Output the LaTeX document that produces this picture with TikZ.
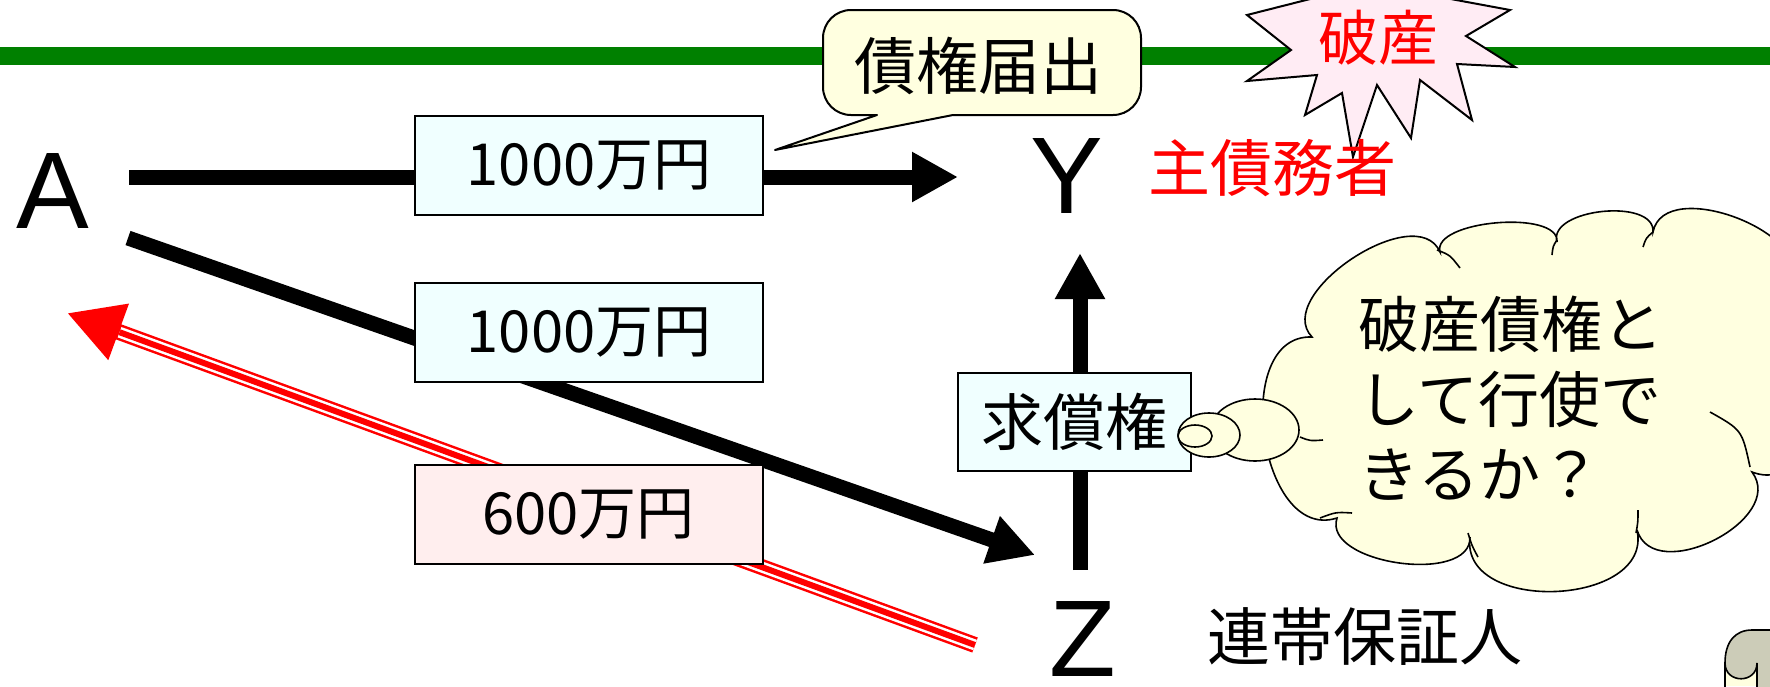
\documentclass[tikz,border=0pt]{standalone}
\usepackage{fontspec}
\setmainfont{Noto Sans CJK JP}
\newfontfamily\latfont{Liberation Sans}
\usetikzlibrary{arrows.meta,calc}
\definecolor{grn}{RGB}{0,128,0}
\definecolor{azurebox}{RGB}{240,255,255}
\definecolor{pinkbox}{RGB}{255,238,238}
\definecolor{lyellow}{RGB}{255,255,224}
\definecolor{starpink}{RGB}{255,236,244}
\definecolor{scrollgray}{RGB}{204,204,184}
\definecolor{pured}{RGB}{255,0,0}
\tikzset{
  amountbox/.style={draw=black, line width=2pt, fill=azurebox, minimum width=348pt,
    minimum height=99pt, inner sep=0pt, font=\fontsize{58}{66}\selectfont},
  bigletter/.style={inner sep=0pt, font=\latfont\fontsize{109}{120}\selectfont},
  jlabel/.style={inner sep=0pt, font=\fontsize{62}{75}\selectfont},
  flow/.style={line width=15pt, -{Triangle[length=46pt,width=47pt]}},
  cloudline/.style={draw=black, line width=1.6pt},
}
\begin{document}
\begin{tikzpicture}[x=1pt, y=-1pt, line join=miter]
\path[use as bounding box] (0,0) rectangle (1770,686);
\fill[white] (0,0) rectangle (1770,686);
\clip (0,0) rectangle (1770,686);

% green line
\coordinate (gl) at (0,56);
\coordinate (gr) at (1770,56);
\draw[grn, line width=18pt] (gl) -- (gr);

% callout
\draw[fill=lyellow, line width=2pt, line join=round]
  (877,115) -- (775,150) -- (953,115) -- (1113,115)
  .. controls (1128.5,115) and (1141,102.5) .. (1141,87) -- (1141,38)
  .. controls (1141,22.5) and (1128.5,10) .. (1113,10) -- (851,10)
  .. controls (835.5,10) and (823,22.5) .. (823,38) -- (823,87)
  .. controls (823,102.5) and (835.5,115) .. (851,115) -- cycle;
\node[jlabel] (todoke) at (978,66) {債権届出};

% starburst
\draw[fill=starpink, line width=2pt]
  (1247,15) -- (1291,50) -- (1247,81) -- (1317,75) -- (1305,115) -- (1342,93)
  -- (1353,157) -- (1377,85) -- (1411,138) -- (1420,80) -- (1472,120)
  -- (1457,64) -- (1515,67) -- (1466,36) -- (1510,10) -- (1440,-3)
  -- (1410,-40) -- (1380,-12) -- (1350,-40) -- (1318,-3) -- cycle;
\node[jlabel, text=pured, font=\fontsize{60}{70}\selectfont] (hasan) at (1378,38) {破産};

% letters and labels
\node[bigletter] (A) at (53,191) {A};
\node[bigletter] (Y) at (1067,176) {Y};
\node[bigletter] (Z) at (1083,639) {Z};
\node[jlabel, text=pured] (shu) at (1272,168) {主債務者};
\node[jlabel, font=\fontsize{63}{75}\selectfont] (hosho) at (1365,637) {連帯保証人};

% connectors
\coordinate (ha) at (129,177);
\coordinate (hy) at (958,177);
\coordinate (da) at (128,238);
\coordinate (dz) at (1035,555);
\coordinate (rz) at (975,645);
\coordinate (ra) at (67,313);
\coordinate (vz) at (1080,570);
\coordinate (vy) at (1080,253);

\draw[pured, line width=16pt, -{Triangle[length=55pt,width=56pt]}] (rz) -- (ra);
\draw[white, line width=11pt, shorten >=56pt] (rz) -- (ra);
\draw[pured, line width=6pt, shorten >=56pt] (rz) -- (ra);

\draw[flow] (ha) -- (hy);
\draw[flow] (da) -- (dz);
\draw[flow] (vz) -- (vy);

% boxes
\node[amountbox] (b1) at (589,165.5) {1000万円};
\node[amountbox] (b2) at (589,332) {1000万円};
\node[amountbox, fill=pinkbox] (b3) at (588.5,514) {600万円};
\node[amountbox, minimum width=233pt, minimum height=98pt,
      font=\fontsize{62}{70}\selectfont] (bq) at (1074.5,422) {求償権};

% cloud
\coordinate (c1) at (1312,337);
\coordinate (c8) at (1440,252);
\coordinate (c7) at (1557,242);
\coordinate (c6) at (1653,232);
\coordinate (c5b) at (1790,285);
\coordinate (c5) at (1752,472);
\coordinate (c4) at (1637,530);
\coordinate (c3) at (1470,537);
\coordinate (c2) at (1337,518);
\path[cloudline, fill=lyellow]
  (c1) .. controls ($(c1)!0.38!100:(c8)$) and ($(c8)!0.38!-100:(c1)$) .. (c8)
       .. controls ($(c8)!0.28!100:(c7)$) and ($(c7)!0.28!-100:(c8)$) .. (c7)
       .. controls ($(c7)!0.36!100:(c6)$) and ($(c6)!0.36!-100:(c7)$) .. (c6)
       .. controls ($(c6)!0.40!100:(c5b)$) and ($(c5b)!0.40!-100:(c6)$) .. (c5b)
       .. controls ($(c5b)!0.44!100:(c5)$) and ($(c5)!0.44!-100:(c5b)$) .. (c5)
       .. controls ($(c5)!0.46!100:(c4)$) and ($(c4)!0.46!-100:(c5)$) .. (c4)
       .. controls ($(c4)!0.47!100:(c3)$) and ($(c3)!0.47!-100:(c4)$) .. (c3)
       .. controls ($(c3)!0.36!100:(c2)$) and ($(c2)!0.36!-100:(c3)$) .. (c2)
       .. controls ($(c2)!0.45!100:(c1)$) and ($(c1)!0.45!-100:(c2)$) .. (c1)
       -- cycle;
\draw[cloudline] (1300,437) .. controls (1310,441) .. (1323,440);
\draw[cloudline] (1320,518) .. controls (1336,512) .. (1352,513);
\draw[cloudline] (1468,533) .. controls (1472,546) .. (1478,557);
\draw[cloudline] (1638,510) .. controls (1638,522) .. (1636,533);
\draw[cloudline] (1710,412) .. controls (1742,430) .. (1750,467);
\draw[cloudline] (1643,247) .. controls (1646,238) .. (1653,232);
\draw[cloudline] (1552,255) .. controls (1553,246) .. (1557,240);
\draw[cloudline] (1437,250) .. controls (1450,255) .. (1460,268);

% thought bubbles
\draw[cloudline, fill=lyellow] (1255,430) ellipse [x radius=44pt, y radius=31pt];
\draw[cloudline, fill=lyellow] (1209,435) ellipse [x radius=31pt, y radius=22pt];
\draw[cloudline, fill=lyellow] (1195,436) ellipse [x radius=17pt, y radius=11pt];

\node[inner sep=0pt, align=left, font=\fontsize{61}{75}\selectfont] (q) at (1511,398)
  {破産債権と\\して行使で\\きるか？};

% scroll corner
\fill[lyellow] (1725,663) rectangle (1770,686);
\draw[line width=1.6pt] (1725,690) -- (1725,663);
\draw[fill=scrollgray, line width=1.6pt]
  (1725,663) .. controls (1725,642) and (1735,630) .. (1752,630) -- (1775,630)
  -- (1775,690) -- (1757,690) -- (1757,663)
  .. controls (1757,684) and (1725,684) .. (1725,663) -- cycle;
\end{tikzpicture}
\end{document}
